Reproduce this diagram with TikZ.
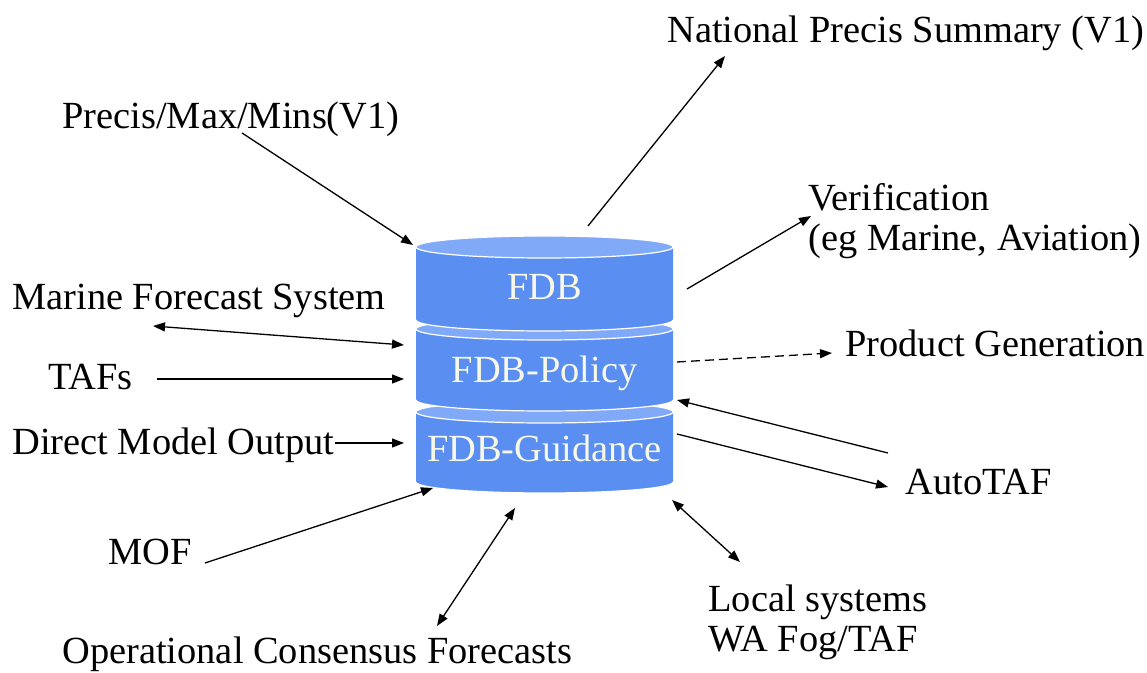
\documentclass[tikz,border=0pt]{standalone}
\usepackage{fontspec}
\setmainfont{Liberation Serif}
\usetikzlibrary{arrows.meta}
\definecolor{dbbody}{RGB}{90,142,240}
\definecolor{dbtop}{RGB}{128,170,248}
\definecolor{dblabel}{RGB}{248,248,230}
\tikzset{
  lbl/.style={inner sep=0pt, anchor=base west, font=\fontsize{19.2}{20}\selectfont},
  dblbl/.style={inner sep=0pt, anchor=base, text=dblabel, font=\fontsize{19.2}{20}\selectfont},
  link/.style={line width=0.65pt, -{Triangle[length=6pt,width=4.5pt]}},
  dlink/.style={line width=0.65pt, {Triangle[length=6pt,width=4.5pt]}-{Triangle[length=6pt,width=4.5pt]}},
}
\begin{document}
\begin{tikzpicture}[x=0.5pt, y=-0.5pt]
  \useasboundingbox (0,0) rectangle (1147,673);
  % database stack, bottom segment first
  \foreach \yt/\yb in {412/482, 329/400, 247/320} {
    \fill[dbbody] (416,\yt) -- (416,\yb)
      arc[start angle=180, end angle=360, x radius=64.25pt, y radius=5.5pt]
      -- (673,\yt) -- cycle;
    \draw[white, line width=0.6pt] (416,\yb)
      arc[start angle=180, end angle=360, x radius=64.25pt, y radius=5.5pt];
    \filldraw[fill=dbtop, draw=white, line width=0.6pt]
      (544.5,\yt) ellipse[x radius=64.25pt, y radius=5.5pt];
  }
  \node[dblbl] (fdb) at (544.5,300) {FDB};
  \node[dblbl] (policy) at (544.5,383) {FDB-Policy};
  \node[dblbl] (guidance) at (544.5,462) {FDB-Guidance};
  % labels round the stack
  \node[lbl] (natl) at (667,43) {National Precis Summary (V1)};
  \node[lbl] (precis) at (62,129) {Precis/Max/Mins(V1)};
  \node[lbl, anchor=north west, align=left] (verif) at (808,183) {Verification\\(eg Marine, Aviation)};
  \node[lbl] (marine) at (12,310) {Marine Forecast System};
  \node[lbl] (tafs) at (48,390) {TAFs};
  \node[lbl] (dmo) at (12,455) {Direct Model Output};
  \node[lbl] (prodgen) at (845,357) {Product Generation};
  \node[lbl] (autotaf) at (905,495) {AutoTAF};
  \node[lbl] (mof) at (108,565) {MOF};
  \node[lbl, anchor=north west, align=left] (local) at (708,584) {Local systems\\WA Fog/TAF};
  \node[lbl] (ocf) at (62,664) {Operational Consensus Forecasts};
  % connector ends on the stack
  \coordinate (db-precis) at (413,245);
  \coordinate (db-natl) at (588,226);
  \coordinate (db-verif) at (687,289);
  \coordinate (db-marine) at (404,345);
  \coordinate (db-tafs) at (404,379);
  \coordinate (db-dmo) at (404,443);
  \coordinate (db-prodgen) at (677,362);
  \coordinate (db-autoin) at (677,400);
  \coordinate (db-autoout) at (677,434);
  \coordinate (db-mof) at (433,488);
  \coordinate (db-ocf) at (515,508);
  \coordinate (db-local) at (672,500);
  % connector ends at the labels
  \coordinate (precis-a) at (242,133);
  \coordinate (natl-a) at (725,56);
  \coordinate (verif-a) at (811,216);
  \coordinate (marine-a) at (153,326);
  \coordinate (tafs-a) at (157,379);
  \coordinate (dmo-a) at (335,443);
  \coordinate (prodgen-a) at (832,353);
  \coordinate (autoin-a) at (888,453);
  \coordinate (autoout-a) at (888,487);
  \coordinate (mof-a) at (205,563);
  \coordinate (ocf-a) at (437,626);
  \coordinate (local-a) at (740,562);
  % connectors
  \draw[link] (precis-a) -- (db-precis);
  \draw[link] (db-natl) -- (natl-a);
  \draw[link] (db-verif) -- (verif-a);
  \draw[dlink] (marine-a) -- (db-marine);
  \draw[link] (tafs-a) -- (db-tafs);
  \draw[link] (dmo-a) -- (db-dmo);
  \draw[link, dash pattern=on 4.5pt off 2.5pt] (db-prodgen) -- (prodgen-a);
  \draw[link] (autoin-a) -- (db-autoin);
  \draw[link] (db-autoout) -- (autoout-a);
  \draw[link] (mof-a) -- (db-mof);
  \draw[dlink] (ocf-a) -- (db-ocf);
  \draw[dlink] (db-local) -- (local-a);
\end{tikzpicture}
\end{document}
